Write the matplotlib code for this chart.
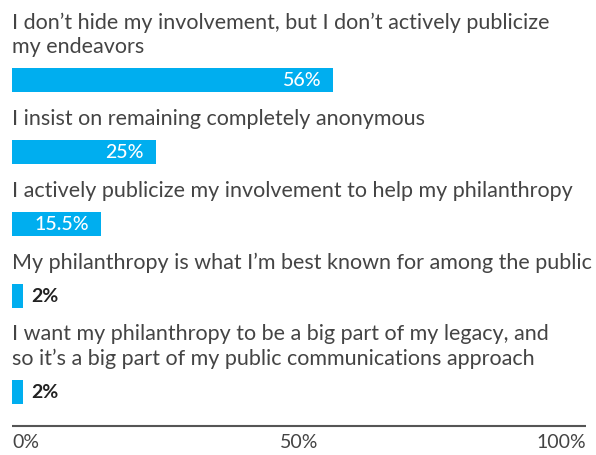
import matplotlib
matplotlib.use("Agg")
import matplotlib.pyplot as plt

# Survey responses and their shares (%)
categories = [
    "I don\u2019t hide my involvement, but I don\u2019t actively publicize\nmy endeavors",
    "I insist on remaining completely anonymous",
    "I actively publicize my involvement to help my philanthropy",
    "My philanthropy is what I\u2019m best known for among the public",
    "I want my philanthropy to be a big part of my legacy, and\nso it\u2019s a big part of my public communications approach",
]
values = [56, 25, 15.5, 2, 2]
value_labels = ["56%", "25%", "15.5%", "2%", "2%"]
tick_values = [0, 50, 100]
tick_labels = ["0%", "50%", "100%"]

# Layout (pixel rows, top of each bar)
W, H = 596, 456
bar_tops = [69, 141, 213, 285, 381]
bar_h = 24
axis_y = 427

BAR = "#00AEEF"
TEXT = "#444444"
FONT = "Lato"

fig = plt.figure(figsize=(W / 100, H / 100), dpi=100)
x0, x1 = 12, 586
ax = fig.add_axes([x0 / W, 0, (x1 - x0) / W, 1])
ax.set_xlim(0, 100)
ax.set_ylim(H, 0)
ax.axis("off")

for cat, v, lab, top in zip(categories, values, value_labels, bar_tops):
    ax.barh(top + bar_h / 2, v, height=bar_h, left=0, color=BAR, linewidth=0)
    ax.text(0, top - 16, cat, ha="left", va="baseline", fontsize=15.5,
            family=FONT, fontweight="normal", color=TEXT, linespacing=1.27)
    if v >= 10:
        ax.annotate(lab, (v, top + bar_h / 2), xytext=(-12, 0),
                    textcoords="offset pixels", ha="right", va="center",
                    fontsize=14, family=FONT, fontweight="medium", color="white")
    else:
        ax.annotate(lab, (v, top + bar_h / 2), xytext=(8, 0),
                    textcoords="offset pixels", ha="left", va="center",
                    fontsize=14, family=FONT, fontweight="bold", color="#222222")

# Bottom axis line and tick labels
ax.plot([0, 100], [axis_y, axis_y], color="#555555", lw=1.5, clip_on=False,
        solid_capstyle="butt")
aligns = ["left", "center", "right"]
for tv, tl, al in zip(tick_values, tick_labels, aligns):
    ax.annotate(tl, (tv, axis_y), xytext=(0, -16), textcoords="offset pixels",
                ha=al, va="center", fontsize=14, family=FONT,
                fontweight="normal", color=TEXT, annotation_clip=False)

fig.savefig("out.png", dpi=100)
